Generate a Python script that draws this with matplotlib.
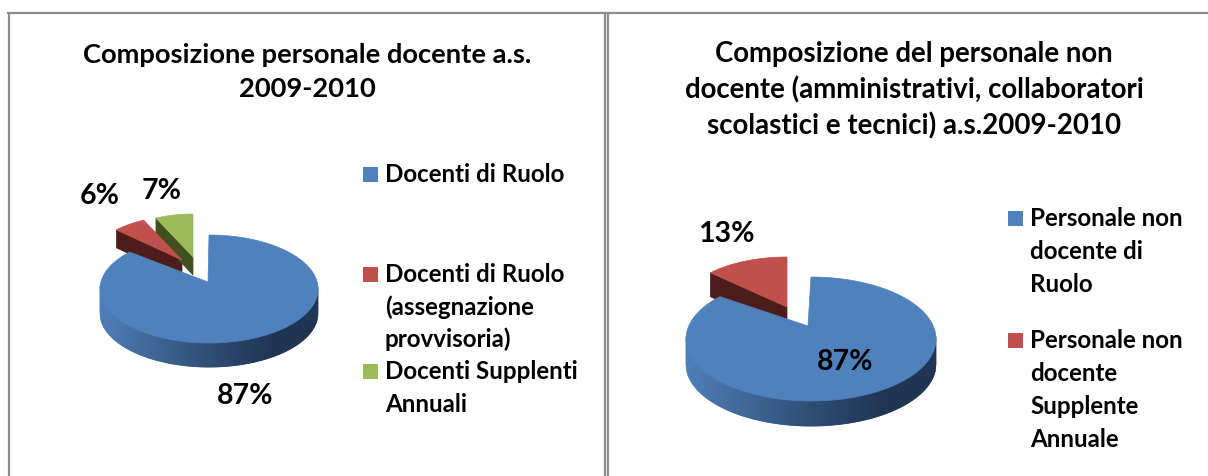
import numpy as np
import matplotlib.pyplot as plt
from matplotlib.colors import to_rgb
from matplotlib.collections import PolyCollection
from matplotlib.patches import Polygon, Rectangle

plt.rcParams['font.family'] = ['Lato', 'DejaVu Sans']

# data
title_left = ["Composizione personale docente a.s.", "2009-2010"]
labels_left = [["Docenti di Ruolo"], ["Docenti di Ruolo", "(assegnazione", "provvisoria)"], ["Docenti Supplenti", "Annuali"]]
values_left = [87, 6, 7]

title_right = ["Composizione del personale non", "docente (amministrativi, collaboratori", "scolastici e tecnici) a.s.2009-2010"]
labels_right = [["Personale non", "docente di", "Ruolo"], ["Personale non", "docente", "Supplente", "Annuale"]]
values_right = [87, 13]

colors = ["#4f81bd", "#c0504d", "#9bbb59"]
dark = ["#1f3552", "#4e1d1b", "#3f4f22"]


def slice_angles(values):
    # clockwise from 12 o'clock, like excel
    fr = np.array(values) / sum(values) * 360
    ends = 90 - np.cumsum(fr)
    starts = np.concatenate([[90], ends[:-1]])
    return starts, ends


def arc(cx, cy, rx, ry, a0, a1, n=200):
    t = np.radians(np.linspace(a0, a1, n))
    return np.column_stack([cx + rx * np.cos(t), cy - ry * np.sin(t)])


def blue_slice(ax, a0, a1, cx, cy, rx, ry, apex, depth):
    pts = arc(cx, cy, rx, ry, a0, a1, 300)
    # rim, only the front half shows. shade by x so there are no stripes
    xs = np.linspace(cx - rx, cx + rx, int(2 * rx) + 1)
    light = np.array(to_rgb("#4f7fb8"))
    mid = np.array(to_rgb("#2f4d74"))
    deep = np.array(to_rgb(dark[0]))
    quads, cols = [], []
    for x0, x1 in zip(xs[:-1], xs[1:]):
        y0 = cy + ry * np.sqrt(max(1 - ((x0 - cx) / rx) ** 2, 0))
        y1 = cy + ry * np.sqrt(max(1 - ((x1 - cx) / rx) ** 2, 0))
        quads.append([(x0, y0 - 2), (x1, y1 - 2), (x1, y1 + depth), (x0, y0 + depth)])
        f = (x0 - xs[0]) / (xs[-1] - xs[0])
        if f < 0.5:
            cols.append(light + (mid - light) * f / 0.5)
        else:
            cols.append(mid + (deep - mid) * min((f - 0.5) / 0.3, 1))
    ax.add_collection(PolyCollection(quads, facecolors=cols, edgecolors=cols, linewidths=0.6, zorder=4))
    ax.add_patch(Polygon(np.vstack([apex, pts]), closed=True, fc=colors[0], ec=colors[0], lw=0.5, zorder=5))


def small_slice(ax, a0, a1, cx, cy, rx, ry, depth, color, wall):
    pts = arc(cx, cy, rx, ry, a0, a1, 80)
    apex = np.array([cx, cy])
    # cut face on the left side of the slice
    ax.add_patch(Polygon([pts[0], apex, apex + [0, depth], pts[0] + [0, depth]], closed=True,
                         fc=wall, ec=wall, lw=0.5, zorder=2))
    ax.add_patch(Polygon(np.vstack([apex, pts]), closed=True, fc=color, ec=color, lw=0.5, zorder=3))


def label(ax, x, y, s, size, ha="left", z=6):
    ax.text(x, y, s, fontsize=size, ha=ha, va="baseline", color="black", fontweight="bold", zorder=z)


def legend(ax, labels, x, ys, size, step):
    for i, (lines, y) in enumerate(zip(labels, ys)):
        ax.add_patch(Rectangle((x, y - 7), 14.5, 14.5, fc=colors[i], ec="none"))
        for j, line in enumerate(lines):
            label(ax, x + 22, y + 7.5 + j * step, line, size)


fig = plt.figure(figsize=(12.08, 4.77), dpi=100)
ax = fig.add_axes([0, 0, 1, 1])
ax.set_xlim(0, 1208)
ax.set_ylim(477, 0)
ax.axis("off")

# panel frame
ax.plot([8, 1208], [14, 14], color="#8c8c8c", lw=1.6, zorder=1)
ax.plot([9, 9], [14, 477], color="#8c8c8c", lw=1.6, zorder=1)
ax.plot([605, 605], [14, 477], color="#8c8c8c", lw=1.6, zorder=1)
ax.plot([608, 608], [14, 477], color="#8c8c8c", lw=1.6, zorder=1)

# left pie
st, en = slice_angles(values_left)
blue_slice(ax, st[0], en[0], 209, 290, 109, 54, (208, 283), 24)
small_slice(ax, st[1], en[1], 182, 261, 90, 44, 18, colors[1], dark[1])
small_slice(ax, st[2], en[2], 193, 258, 87, 43, 18, colors[2], dark[2])

label(ax, 307, 63, title_left[0], 19.7, "center")
label(ax, 307, 97, title_left[1], 19.7, "center")
label(ax, 100, 204, f"{values_left[1]}%", 20.5, "center")
label(ax, 162, 199, f"{values_left[2]}%", 20.5, "center")
label(ax, 245, 404, f"{values_left[0]}%", 20.5, "center")
legend(ax, labels_left, 363, [175, 275, 372], 17.4, 32.5)

# right pie
st, en = slice_angles(values_right)
blue_slice(ax, st[0], en[0], 811, 340, 125, 62, (808, 327), 25)
small_slice(ax, st[1], en[1], 787, 308, 105, 50, 24, colors[1], dark[1])

for i, line in enumerate(title_right):
    label(ax, 914, 62 + i * 36, line, 19.9, "center")
label(ax, 726, 242, f"{values_right[1]}%", 20.5, "center")
label(ax, 845, 370, f"{values_right[0]}%", 20.5, "center")
legend(ax, labels_right, 1008, [219, 341], 17.4, 32.7)

fig.savefig("out.png", dpi=100)
